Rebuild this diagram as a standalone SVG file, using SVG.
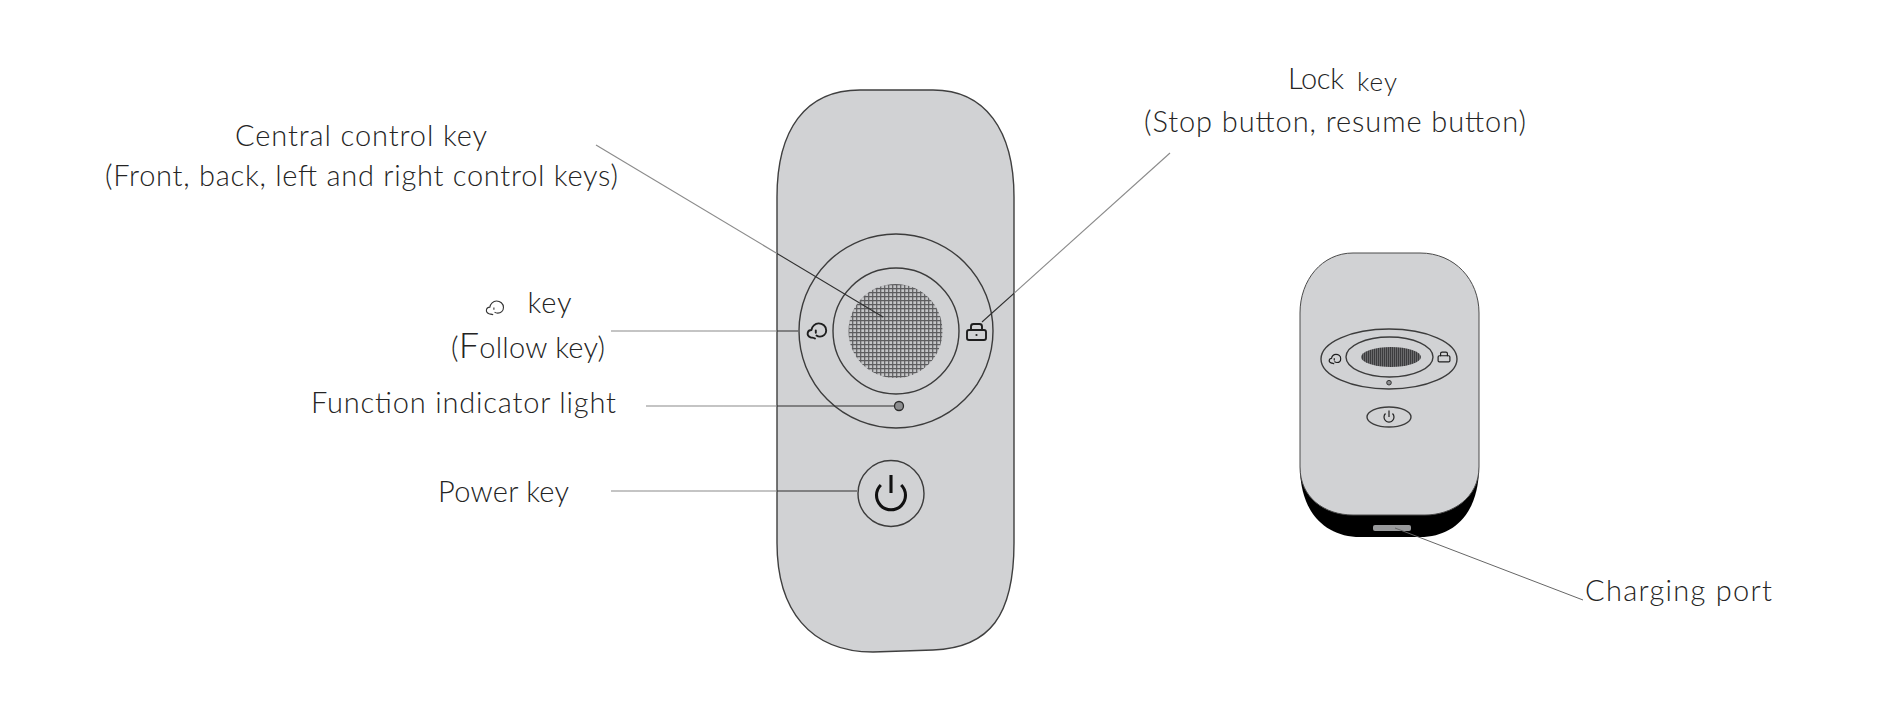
<svg xmlns="http://www.w3.org/2000/svg" width="1880" height="720" viewBox="0 0 1880 720">
<style>
.lb{font-family:"Lato","Liberation Sans",sans-serif;font-weight:300;font-size:29px;fill:#242424}
.o{fill:none;stroke:#3c3c3c;stroke-width:1.4}
.ln{fill:none;stroke:url(#cg);stroke-width:1.1}
.ic{fill:none;stroke:#1e1e1e;stroke-width:1.9;stroke-linecap:round;stroke-linejoin:round}
</style>
<defs>
<linearGradient id="cg" gradientUnits="userSpaceOnUse" x1="0" y1="0" x2="1880" y2="0">
<stop offset="0.4133" stop-color="#8a8a8a"/><stop offset="0.4133" stop-color="#2f2f2f"/>
<stop offset="0.5394" stop-color="#2f2f2f"/><stop offset="0.5394" stop-color="#8a8a8a"/>
</linearGradient>
<pattern id="g1" width="4" height="4" patternUnits="userSpaceOnUse">
<rect width="4" height="4" fill="#c4c5c7"/><path d="M0 .7H4M.7 0V4" stroke="#5c5c5e" stroke-width="1.2"/>
</pattern>
<pattern id="g2" width="2" height="2" patternUnits="userSpaceOnUse">
<rect width="2" height="2" fill="#6a6a6c"/><path d="M.5 0V2" stroke="#3c3c3e" stroke-width="1"/>
</pattern>
<symbol id="cloud" overflow="visible">
<path d="M-2 7.500C-3.500 6.500-5 6.800-6.500 6.300C-8.800 5.500-9.700 3.600-9.200 1.600C-8.700-.2-7.300-1-5.600-1C-5-4.600-2-7.600 1.600-7.600C5.600-7.600 9.200-4.800 9.200-.6C9.200 3.200 6.300 5.600 3 5.600C1.400 5.600 .4 5.200-.5 4.500"/>
<path d="M-1.200 -.5V1.800"/>
</symbol>
<symbol id="lock" overflow="visible">
<rect x="-9.500" y="-2" width="19" height="10" rx="2"/>
<path d="M-5.500-2V-5.500Q-5.500-8-3-8H3Q5.500-8 5.500-5.500V-2"/>
</symbol>
</defs>

<g id="remote">
<path d="M860 90H933C985 90 1014 130 1014 197V543C1014 615 990 648 933 650L873 652C810 652 777 610 777 543V197C777 130 805 90 860 90Z" fill="#d1d2d4" stroke="#3f3f3f" stroke-width="1.400"/>
</g>
<g id="outer-ring"><circle class="o" cx="896" cy="331" r="97"/></g>
<g id="central-key">
<circle class="o" cx="896" cy="331" r="63"/>
<circle cx="895.500" cy="331" r="47" fill="url(#g1)"/>
</g>
<g id="follow-key"><use href="#cloud" x="817" y="331" class="ic"/></g>
<g id="lock-key"><use href="#lock" x="976.500" y="332" class="ic"/><circle cx="976.500" cy="335" r="1.100" fill="#1e1e1e"/></g>
<g id="indicator"><circle cx="899" cy="406" r="4.500" fill="#8d8e90" stroke="#2a2a2a" stroke-width="1.300"/></g>
<g id="power-key">
<circle class="o" cx="891" cy="493.500" r="33"/>
<path d="M880.800 485A14.500 14.500 0 1 0 901.200 485M891 475V493" fill="none" stroke="#111" stroke-width="3.100"/>
</g>

<g id="device">
<path d="M1300 467C1300 512 1325 537 1360 537H1420C1455 537 1479 512 1479 467Z" fill="#000"/>
<path d="M1353 253H1420C1455 253 1479 280 1479 313V467C1479 498 1452 515 1425 515H1353C1325 515 1300 498 1300 467V313C1300 280 1322 253 1353 253Z" fill="#d1d2d4" stroke="#4a4a4a" stroke-width="1"/>
</g>
<g id="device-ring"><ellipse class="o" cx="1389" cy="359" rx="68" ry="30"/></g>
<g id="device-central"><ellipse class="o" cx="1389.500" cy="357" rx="43.500" ry="20"/><ellipse cx="1391" cy="357" rx="30" ry="10" fill="url(#g2)"/></g>
<g id="device-follow"><use href="#cloud" transform="translate(1335 359) scale(.62)" class="ic"/></g>
<g id="device-lock"><use href="#lock" transform="translate(1444 357) scale(.62)" class="ic"/></g>
<g id="device-indicator"><circle cx="1389" cy="382.700" r="2.300" fill="#8d8e90" stroke="#333" stroke-width="1"/></g>
<g id="device-power">
<ellipse class="o" cx="1389" cy="417" rx="22" ry="10"/>
<path d="M1385.500 413.500A5 5 0 1 0 1392.500 413.500M1389 410.500V417" fill="none" stroke="#222" stroke-width="1.200"/>
</g>
<g id="port"><rect x="1373" y="525" width="38" height="6" rx="2" fill="#98999b"/></g>

<g id="connectors">
<path class="ln" d="M596 145L883 317"/>
<path class="ln" d="M1170 153L982 322"/>
<path class="ln" d="M611 331H798"/>
<path class="ln" d="M646 406H895"/>
<path class="ln" d="M611 491H857"/>
<path d="M1583 600L1395 528" fill="none" stroke="#666" stroke-width="1"/>
</g>

<g id="labels">
<text class="lb" x="235" y="146" textLength="252">Central control key</text>
<text class="lb" x="105" y="186" textLength="513">(Front, back, left and right control keys)</text>
<use href="#cloud" transform="translate(495 308) scale(.92)" fill="none" stroke="#333" stroke-width="1.200"/>
<text class="lb" x="527.500" y="313" textLength="44">key</text>
<text class="lb" x="451" y="358" textLength="154">(<tspan font-size="36">F</tspan>ollow key)</text>
<text class="lb" x="311" y="413" textLength="305">Function indicator light</text>
<text class="lb" x="438" y="502" textLength="131">Power key</text>
<text class="lb" x="1288" y="89" textLength="56">Lock</text>
<text class="lb" x="1357" y="91" font-size="26" style="font-size:26px" textLength="40">key</text>
<text class="lb" x="1144" y="132" textLength="382">(Stop button, resume button)</text>
<text class="lb" x="1585" y="601" textLength="187">Charging port</text>
</g>
</svg>
